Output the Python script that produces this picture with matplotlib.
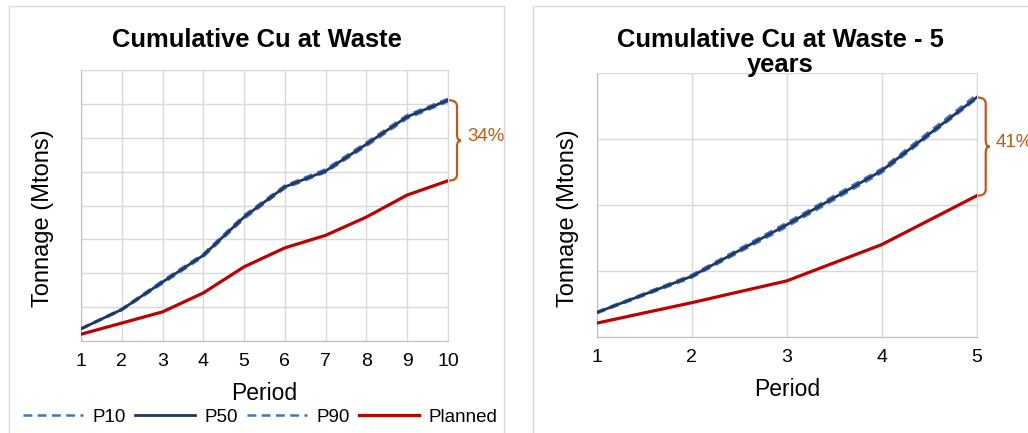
import numpy as np
import matplotlib
matplotlib.use("Agg")
import matplotlib.pyplot as plt
from matplotlib.path import Path
from matplotlib.patches import PathPatch, Rectangle
import matplotlib.transforms as mtransforms

plt.rcParams['font.family'] = ['Liberation Sans', 'DejaVu Sans']

# Data (values in gridline units)
periods_10 = [1, 2, 3, 4, 5, 6, 7, 8, 9, 10]
p10_10 = [0.37, 0.95, 1.78, 2.57, 3.71, 4.59, 5.07, 5.86, 6.67, 7.15]
p50_10 = [0.36, 0.93, 1.74, 2.53, 3.66, 4.55, 5.02, 5.81, 6.62, 7.11]
p90_10 = [0.35, 0.91, 1.70, 2.49, 3.61, 4.51, 4.98, 5.76, 6.57, 7.07]
planned_10 = [0.20, 0.53, 0.86, 1.42, 2.19, 2.75, 3.12, 3.66, 4.31, 4.73]

periods_5 = [1, 2, 3, 4, 5]
p10_5 = [0.38, 0.94, 1.73, 2.55, 3.67]
p50_5 = [0.37, 0.92, 1.70, 2.52, 3.63]
p90_5 = [0.36, 0.90, 1.67, 2.49, 3.61]
planned_5 = [0.21, 0.52, 0.85, 1.40, 2.14]

gap_labels = ["34%", "41%"]
series_names = ["P10", "P50", "P90", "Planned"]

W, H = 1028, 433
DARK = '#203864'
LIGHT = '#4472C4'
RED = '#C00000'
ORANGE = '#C65911'
GRID = '#D9D9D9'


def px(x, y):
    """ Pixel position (top-left origin) to figure fraction """
    return x / W, 1 - y / H


def draw_brace(ax, y_top, y_bot, label):
    """ Draw a curly brace right of the axes between two data values """
    trans = mtransforms.blended_transform_factory(ax.transAxes, ax.transData)
    pos = ax.get_position()
    ax_w = pos.width * W
    ax_h = pos.height * H
    y0, y1 = ax.get_ylim()
    r = 6 * (y1 - y0) / ax_h
    x0 = 1.0
    x1 = 1.0 + 9 / ax_w
    x2 = 1.0 + 13 / ax_w
    ym = (y_top + y_bot) / 2
    verts = [(x0, y_top), (x1, y_top), (x1, y_top - r),
             (x1, ym + r), (x1, ym), (x2, ym),
             (x1, ym), (x1, ym - r),
             (x1, y_bot + r), (x1, y_bot), (x0, y_bot)]
    codes = [Path.MOVETO, Path.CURVE3, Path.CURVE3,
             Path.LINETO, Path.CURVE3, Path.CURVE3,
             Path.CURVE3, Path.CURVE3,
             Path.LINETO, Path.CURVE3, Path.CURVE3]
    patch = PathPatch(Path(verts, codes), transform=trans, fill=False,
                      edgecolor=ORANGE, lw=1.6, clip_on=False)
    ax.add_patch(patch)
    ax.text(x2 + 6 / ax_w, ym + 4 * (y1 - y0) / ax_h, label, transform=trans,
            ha='left', va='center', color=ORANGE, fontsize=13.5)


def plot_panel(ax, periods, p10, p50, p90, planned, ymax, label):
    """ Plot one cumulative tonnage panel """
    l10, = ax.plot(periods, p10, color=LIGHT, lw=1.8, ls=(0, (3.5, 2.2)), zorder=3)
    l90, = ax.plot(periods, p90, color=LIGHT, lw=1.8, ls=(0, (3.5, 2.2)), zorder=3)
    l50, = ax.plot(periods, p50, color=DARK, lw=2.0, zorder=4)
    lpl, = ax.plot(periods, planned, color=RED, lw=2.3, zorder=3)

    ax.set_xlim(periods[0], periods[-1])
    ax.set_ylim(0, ymax)
    ax.set_xticks(periods)
    ax.set_yticks(np.arange(0, ymax + 1))
    ax.set_yticklabels([])
    ax.grid(True, color=GRID, lw=1)
    ax.set_axisbelow(True)
    ax.tick_params(length=0, labelsize=14, pad=9)
    for side in ['top', 'right']:
        ax.spines[side].set_color(GRID)
    for side in ['left', 'bottom']:
        ax.spines[side].set_color('#BFBFBF')

    draw_brace(ax, p50[-1], planned[-1], label)
    return [l10, l50, l90, lpl]


fig = plt.figure(figsize=(W / 100, H / 100), dpi=100)

# Panel frames
fig.patches.append(Rectangle(px(9, 440), (504 - 9) / W, (440 - 6) / H,
                             transform=fig.transFigure, fill=False, edgecolor=GRID, lw=1))
fig.patches.append(Rectangle(px(533, 440), (1040 - 533) / W, (440 - 6) / H,
                             transform=fig.transFigure, fill=False, edgecolor=GRID, lw=1))

ax1 = fig.add_axes([81 / W, 1 - 341 / H, (448 - 81) / W, (341 - 70) / H])
ax2 = fig.add_axes([596.7 / W, 1 - 337 / H, (976.7 - 596.7) / W, (337 - 73) / H])

handles = plot_panel(ax1, periods_10, p10_10, p50_10, p90_10, planned_10, 8, gap_labels[0])
plot_panel(ax2, periods_5, p10_5, p50_5, p90_5, planned_5, 4, gap_labels[1])

# Titles
fig.text(*px(257, 47), "Cumulative Cu at Waste", ha='center', va='baseline',
         fontsize=18.4, fontweight='bold')
fig.text(*px(780, 47), "Cumulative Cu at Waste - 5", ha='center', va='baseline',
         fontsize=18.4, fontweight='bold')
fig.text(*px(780, 72), "years", ha='center', va='baseline',
         fontsize=18.4, fontweight='bold')

# Axis labels
for xl, yl, xp, yp in [(264.5, 393, 43, 218), (786.7, 390, 568, 218)]:
    fig.text(*px(xl, yl), "Period", ha='center', va='center', fontsize=16.5)
    fig.text(*px(xp, yp), "Tonnage (Mtons)", ha='center', va='center',
             rotation=90, fontsize=17)

fig.legend(handles, series_names, loc='center', bbox_to_anchor=px(260, 417),
           ncol=4, frameon=False, fontsize=13.5, handlelength=3.2,
           handletextpad=0.5, columnspacing=0.5, borderpad=0)

fig.savefig("out.png", dpi=100)
